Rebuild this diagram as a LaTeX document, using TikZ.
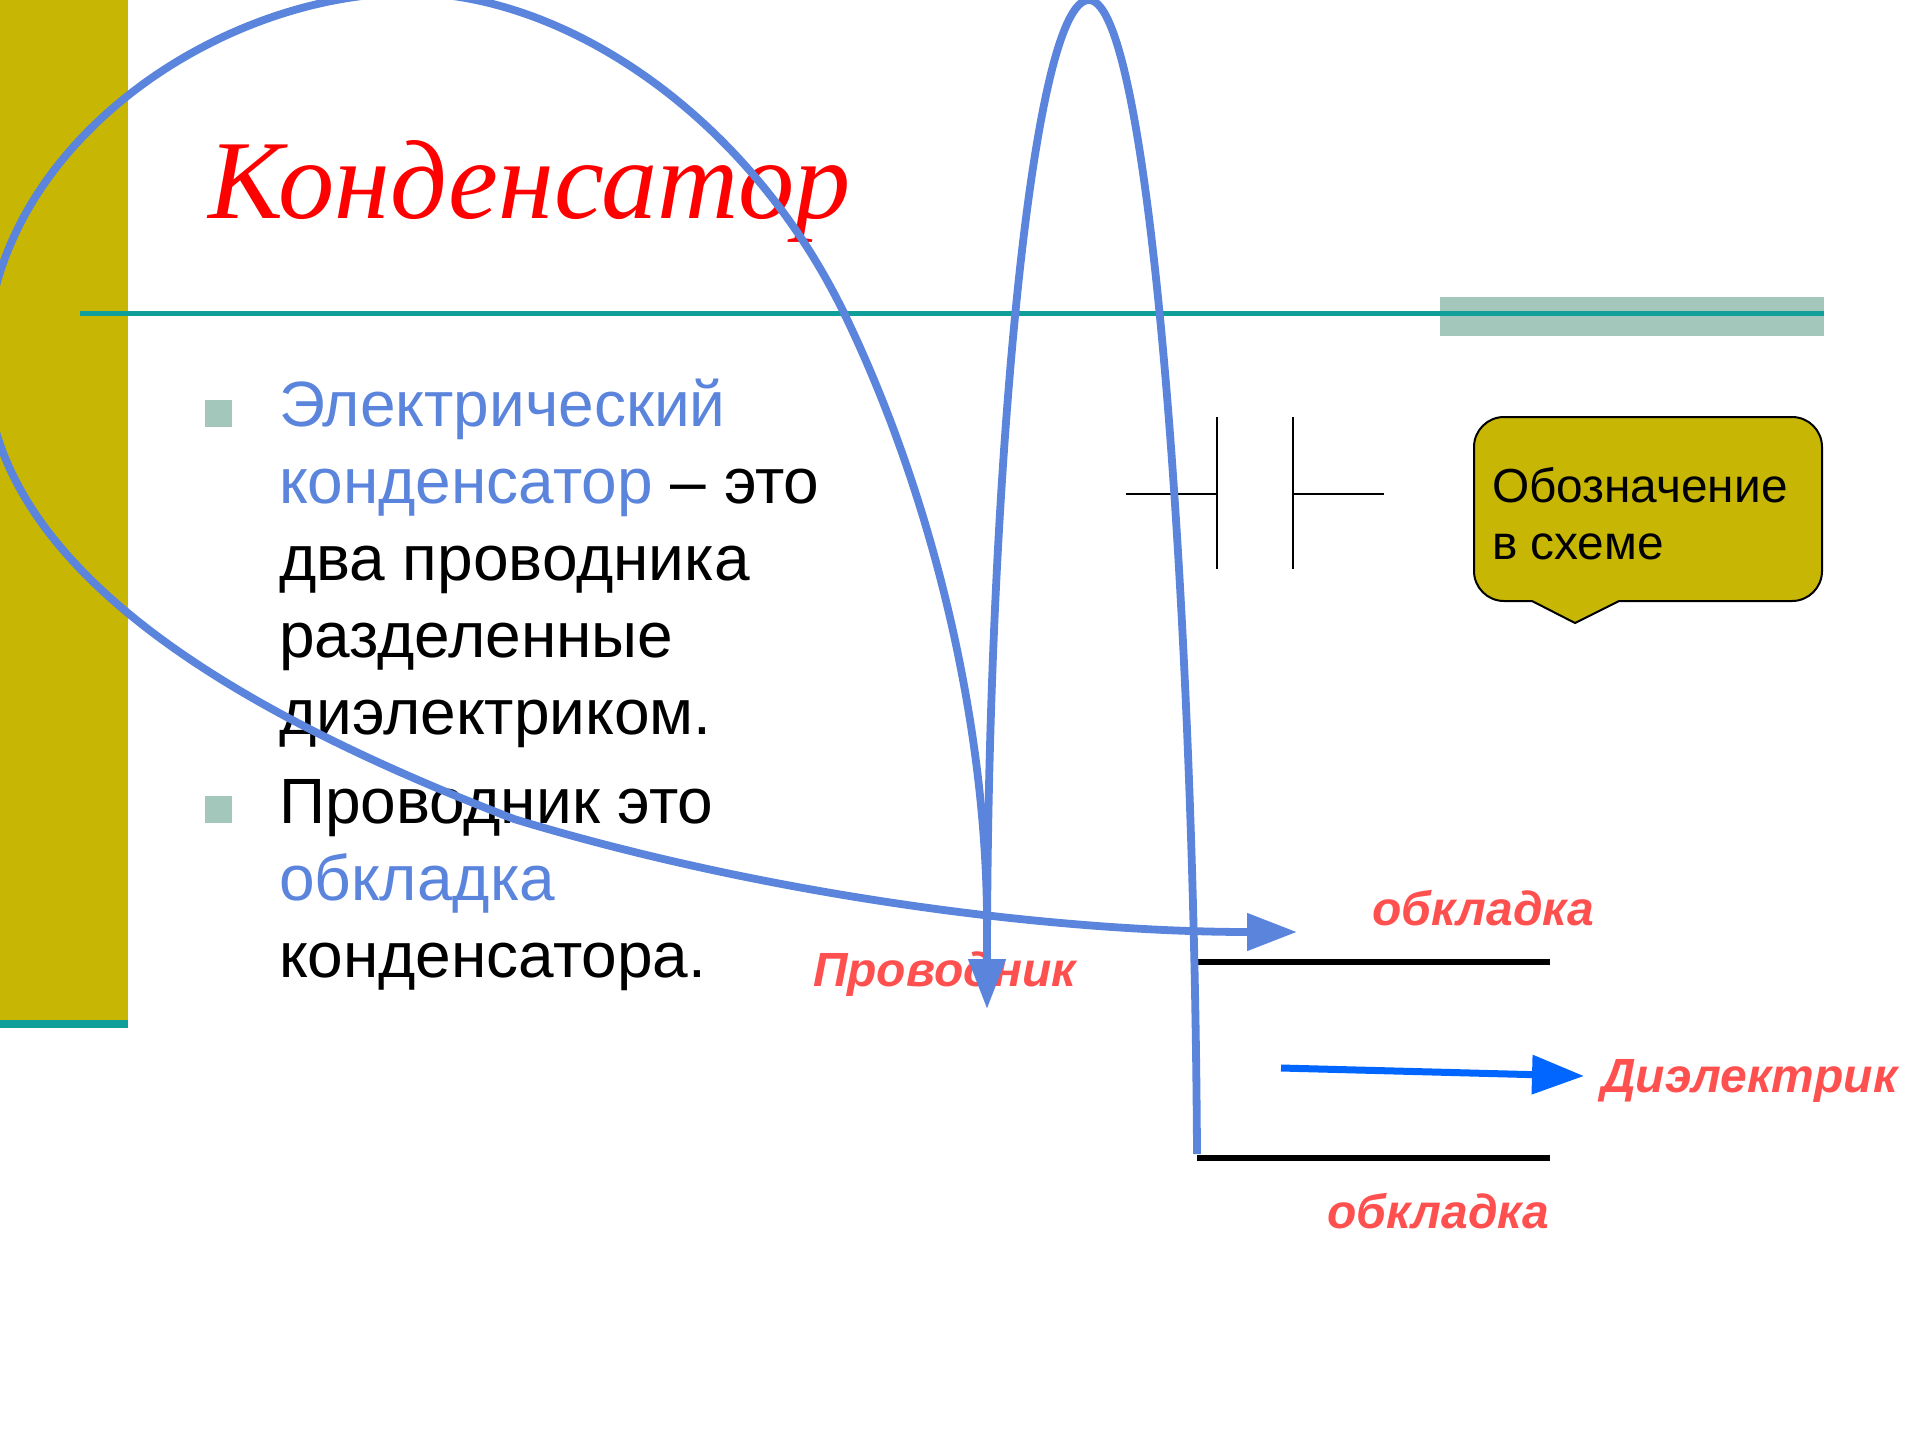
\documentclass[tikz,border=0pt]{standalone}
\usepackage{fontspec}
\setmainfont{Liberation Sans}
\newfontfamily\serifrm{Liberation Serif}
\usetikzlibrary{arrows.meta}
\definecolor{olivebar}{HTML}{C7B603}
\definecolor{tealline}{HTML}{0E9F9B}
\definecolor{sage}{HTML}{A3C7BB}
\definecolor{curveblue}{HTML}{5B84DC}
\definecolor{pureblue}{HTML}{0066FF}
\definecolor{labelred}{HTML}{FF5050}
\newcommand{\fs}[1]{\fontsize{#1}{#1}\selectfont}
\tikzset{
  x=0.5pt,y=-0.5pt,
  txt/.style={anchor=base west,inner sep=0pt,outer sep=0pt},
  body/.style={txt,font=\fs{32}},
  lab/.style={txt,font=\fs{24}\bfseries\itshape,text=labelred},
  callouttxt/.style={txt,font=\fs{23.9}},
  curve/.style={draw=curveblue,line width=3.9pt,line join=round},
  curvetip/.style={-{Triangle[length=25pt,width=18pt,fill=curveblue]}},
  plate/.style={draw=black,line width=3pt},
  wire/.style={draw=black,line width=1pt},
}
\begin{document}
\begin{tikzpicture}
\path[use as bounding box] (0,0) rectangle (1920,1440);
\clip (0,0) rectangle (1920,1440);
\fill[white] (0,0) rectangle (1920,1440);
% sidebar
\fill[olivebar] (0,0) rectangle (128,1020);
\fill[tealline] (0,1020) rectangle (128,1028);
% header band
\fill[sage] (1440,297) rectangle (1824,336);
\fill[tealline] (80,311) rectangle (1824,315.5);
% title
\node[txt,font=\serifrm\fs{56.2}\itshape,text=red] (title) at (208,218) {Конденсатор};
% bullets
\fill[sage] (205,400) rectangle (232,427);
\fill[sage] (205,796) rectangle (232,823);
% body
\node[body,text=curveblue] (l1) at (279,426) {Электрический};
\node[body] (l2) at (279,503) {\textcolor{curveblue}{конденсатор} – это};
\node[body] (l3) at (279,580) {два проводника};
\node[body] (l4) at (279,657) {разделенные};
\node[body] (l5) at (279,734) {диэлектриком.};
\node[body] (l6) at (279,823) {Проводник это};
\node[body,text=curveblue] (l7) at (279,900) {обкладка};
\node[body] (l8) at (279,977) {конденсатора.};
% capacitor symbol
\coordinate (w1) at (1126,494);
\coordinate (p1) at (1217,494);
\coordinate (p1t) at (1217,417);
\coordinate (p1b) at (1217,569);
\coordinate (p2) at (1292.5,494);
\coordinate (p2t) at (1292.5,417);
\coordinate (p2b) at (1292.5,569);
\coordinate (w2) at (1384,494);
\draw[wire] (w1) -- (p1);
\draw[wire] (p1t) -- (p1b);
\draw[wire] (p2t) -- (p2b);
\draw[wire] (p2) -- (w2);
% callout
\draw[fill=olivebar,draw=black,line width=1pt,rounded corners=15pt]
  (1650,417) -- (1822,417) -- (1822,601) -- (1700,601) [sharp corners] -- (1619,601) -- (1575,623) -- (1532,601) -- (1510,601) [rounded corners=15pt] -- (1474,601) -- (1474,417) -- cycle;
\node[callouttxt] (c1) at (1492,502) {Обозначение};
\node[callouttxt] (c2) at (1492,559) {в схеме};
% plates
\coordinate (a1) at (1198,962);
\coordinate (a2) at (1550,962);
\coordinate (b1) at (1197,1158);
\coordinate (b2) at (1550,1158);
\draw[plate] (a1) -- (a2);
\draw[plate] (b1) -- (b2);
% labels
\node[lab] (o1) at (1372,925) {обкладка};
\node[lab] (o2) at (1327,1228) {обкладка};
\node[lab] (pr) at (813,986) {Проводник};
\node[lab] (di) at (1601,1092) {Диэлектрик};
% dielectric arrow
\coordinate (d1) at (1281,1068);
\coordinate (d2) at (1584,1076);
\draw[draw=pureblue,line width=3.5pt,-{Triangle[length=26pt,width=19pt,fill=pureblue]}] (d1) -- (d2);
% big loop
\coordinate (bs) at (987,915);
\coordinate (bm) at (844,313);
\coordinate (bt) at (410,-7);
\coordinate (bl) at (-14,362);
\coordinate (bn) at (514,819);
\coordinate (be) at (1297,932);
\draw[curve,curvetip] (bs)
  .. controls (985,715) and (931,493) .. (bm)
  .. controls (745,110) and (560,-7) .. (bt)
  .. controls (215,-7) and (-14,150) .. (bl)
  .. controls (-14,580) and (270,725) .. (bn)
  .. controls (764,895) and (1050,932) .. (be);
% narrow arch
\coordinate (na) at (1197,1154);
\coordinate (nt) at (1089,0);
\coordinate (nb) at (987,1009);
\draw[curve,curvetip] (na)
  .. controls (1194,600) and (1150,0) .. (nt)
  .. controls (1030,0) and (987,500) .. (nb);
\end{tikzpicture}
\end{document}
